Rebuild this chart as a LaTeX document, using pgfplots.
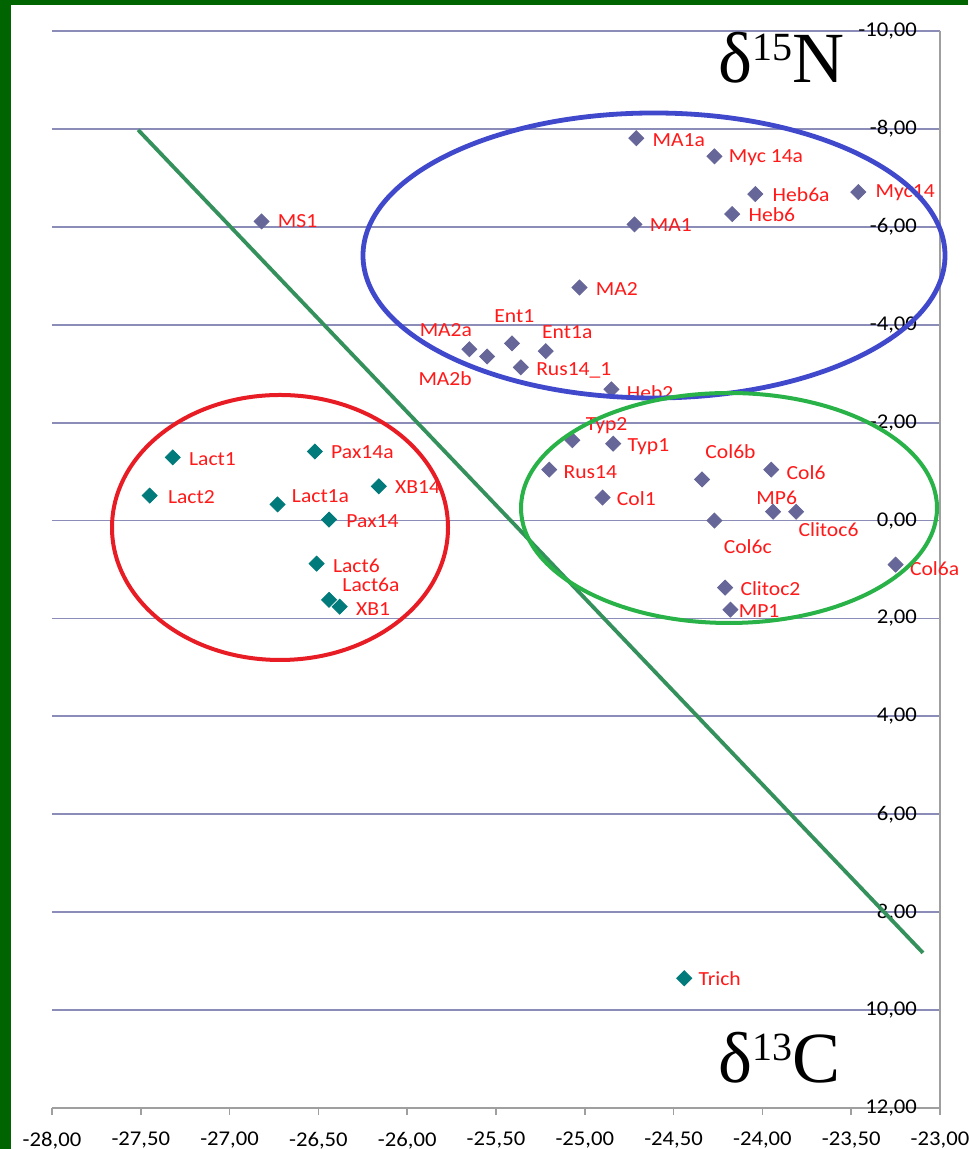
\documentclass[border=0pt]{standalone}
\usepackage{fontspec}
\setmainfont{Carlito}[FakeStretch=1.08]
\newfontfamily\serifd{Liberation Serif}
\usepackage{pgfplots}
\pgfplotsset{compat=1.18}
\definecolor{framec}{RGB}{0,100,0}
\definecolor{ptpurple}{RGB}{102,102,153}
\definecolor{ptteal}{RGB}{0,122,122}
\definecolor{gridc}{RGB}{140,140,185}
\definecolor{lblred}{RGB}{255,25,25}
\definecolor{ellblue}{RGB}{64,72,204}
\definecolor{ellred}{RGB}{232,28,36}
\definecolor{ellgreen}{RGB}{40,178,72}
\definecolor{diagc}{RGB}{52,145,92}

\pgfplotsset{
  lbl/.style={
    only marks, mark=square*, mark size=2.65pt,
    mark options={rotate=45, fill=#1, draw=#1},
    point meta=explicit symbolic,
    visualization depends on={value \thisrow{dx}\as\labdx},
    visualization depends on={value \thisrow{dy}\as\labdy},
    nodes near coords,
    nodes near coords style={anchor=west, inner sep=0pt, text=lblred,
      font=\fontsize{10}{12}\selectfont, xshift=\labdx*1pt, yshift=\labdy*1pt},
  }
}

\begin{document}
\begin{tikzpicture}
\useasboundingbox (-26pt,-20.5pt) rectangle (458pt,554pt);
\fill[white] (-26pt,-20.5pt) rectangle (458pt,554pt);
\fill[framec] (-26pt,-20.5pt) rectangle (-20.5pt,554pt);
\fill[framec] (-26pt,551.5pt) rectangle (458pt,554pt);
\begin{axis}[
  at={(0pt,0pt)}, anchor=south west,
  scale only axis, width=444pt, height=538.5pt,
  xmin=-28, xmax=-23, ymin=-10, ymax=12,
  y dir=reverse,
  xtick distance=0.5, ytick distance=2,
  separate axis lines,
  axis x line*=bottom, axis y line*=right,
  axis line style={-, draw=gray!75, line width=0.8pt},
  ymajorgrids, grid style={gridc, line width=0.9pt},
  xtick align=outside, major tick length=3.5pt,
  xtick style={draw=gray!75, line width=0.8pt},
  ytick style={draw=none},
  /pgf/number format/.cd, fixed, fixed zerofill, precision=2, use comma, assume math mode=true,
  /pgfplots/.cd,
  ticklabel style={font=\fontsize{10.5}{12}\selectfont, text=black},
  yticklabel style={anchor=east, xshift=-8pt},
  xticklabel style={yshift=-5pt},
  clip=false,
]
\addplot[no marks, diagc, line width=1.9pt] coordinates {(-27.515,-7.98) (-23.096,8.83)};

\addplot[lbl=ptpurple] table[x=x, y=y, meta=label] {
x y label dx dy
-26.82 -6.11 MS1 8 0
-24.71 -7.81 MA1a 8 -1
-24.27 -7.44 {Myc 14a} 7 -0.75
-24.04 -6.67 Heb6a 8.5 -0.5
-23.46 -6.71 Myc14 8.5 -0.5
-24.17 -6.26 Heb6 8 -0.5
-24.72 -6.05 MA1 7.5 -0.5
-25.03 -4.76 MA2 8 -0.5
-25.65 -3.50 MA2a -25 9.5
-25.55 -3.35 MA2b -34.5 -11
-25.41 -3.62 Ent1 -9 13.5
-25.22 -3.46 Ent1a -2 9.5
-25.36 -3.13 {Rus14\_1} 7.5 -1.5
-24.85 -2.68 Heb2 7.5 -1.5
-25.07 -1.64 Typ2 6.5 7.5
-24.84 -1.57 Typ1 7 -1.5
-25.20 -1.04 Rus14 7 -1.5
-24.90 -0.47 Col1 7 -0.5
-24.34 -0.84 Col6b 1.5 14
-23.95 -1.04 Col6 7.5 -1.5
-23.94 -0.18 MP6 -8.5 7
-23.81 -0.18 Clitoc6 1 -9
-24.27 0.00 Col6c 4.5 -13
-23.25 0.90 Col6a 7 -2
-24.21 1.37 Clitoc2 7.5 -0.5
-24.18 1.82 MP1 4 -0.5
};

\addplot[lbl=ptteal] table[x=x, y=y, meta=label] {
x y label dx dy
-27.32 -1.29 Lact1 8 -1
-27.45 -0.51 Lact2 9 -1
-26.52 -1.41 Pax14a 8 -0.5
-26.16 -0.70 XB14 8 -0.5
-26.73 -0.33 Lact1a 7 4
-26.44 -0.02 Pax14 8.5 -1
-26.51 0.88 Lact6 8 -1
-26.44 1.62 Lact6a 6.5 7.5
-26.38 1.76 XB1 8 -1
-24.44 9.35 Trich 7 0
};
\end{axis}
\draw[ellblue, line width=2.4pt] (301pt,426.25pt) ellipse [x radius=145.5pt, y radius=71.25pt];
\draw[ellred, line width=2pt] (114pt,290.25pt) ellipse [x radius=84pt, y radius=66.25pt];
\draw[ellgreen, line width=2pt] (338.5pt,300pt) ellipse [x radius=104pt, y radius=57.5pt];
\node[anchor=base west, inner sep=0pt] at (333pt,512.5pt)
  {\serifd\fontsize{36}{40}\selectfont δ\raisebox{11pt}{\fontsize{20}{22}\selectfont 15}N};
\node[anchor=base west, inner sep=0pt] at (333pt,12.5pt)
  {\serifd\fontsize{36}{40}\selectfont δ\raisebox{11pt}{\fontsize{20}{22}\selectfont 13}C};
\end{tikzpicture}
\end{document}
